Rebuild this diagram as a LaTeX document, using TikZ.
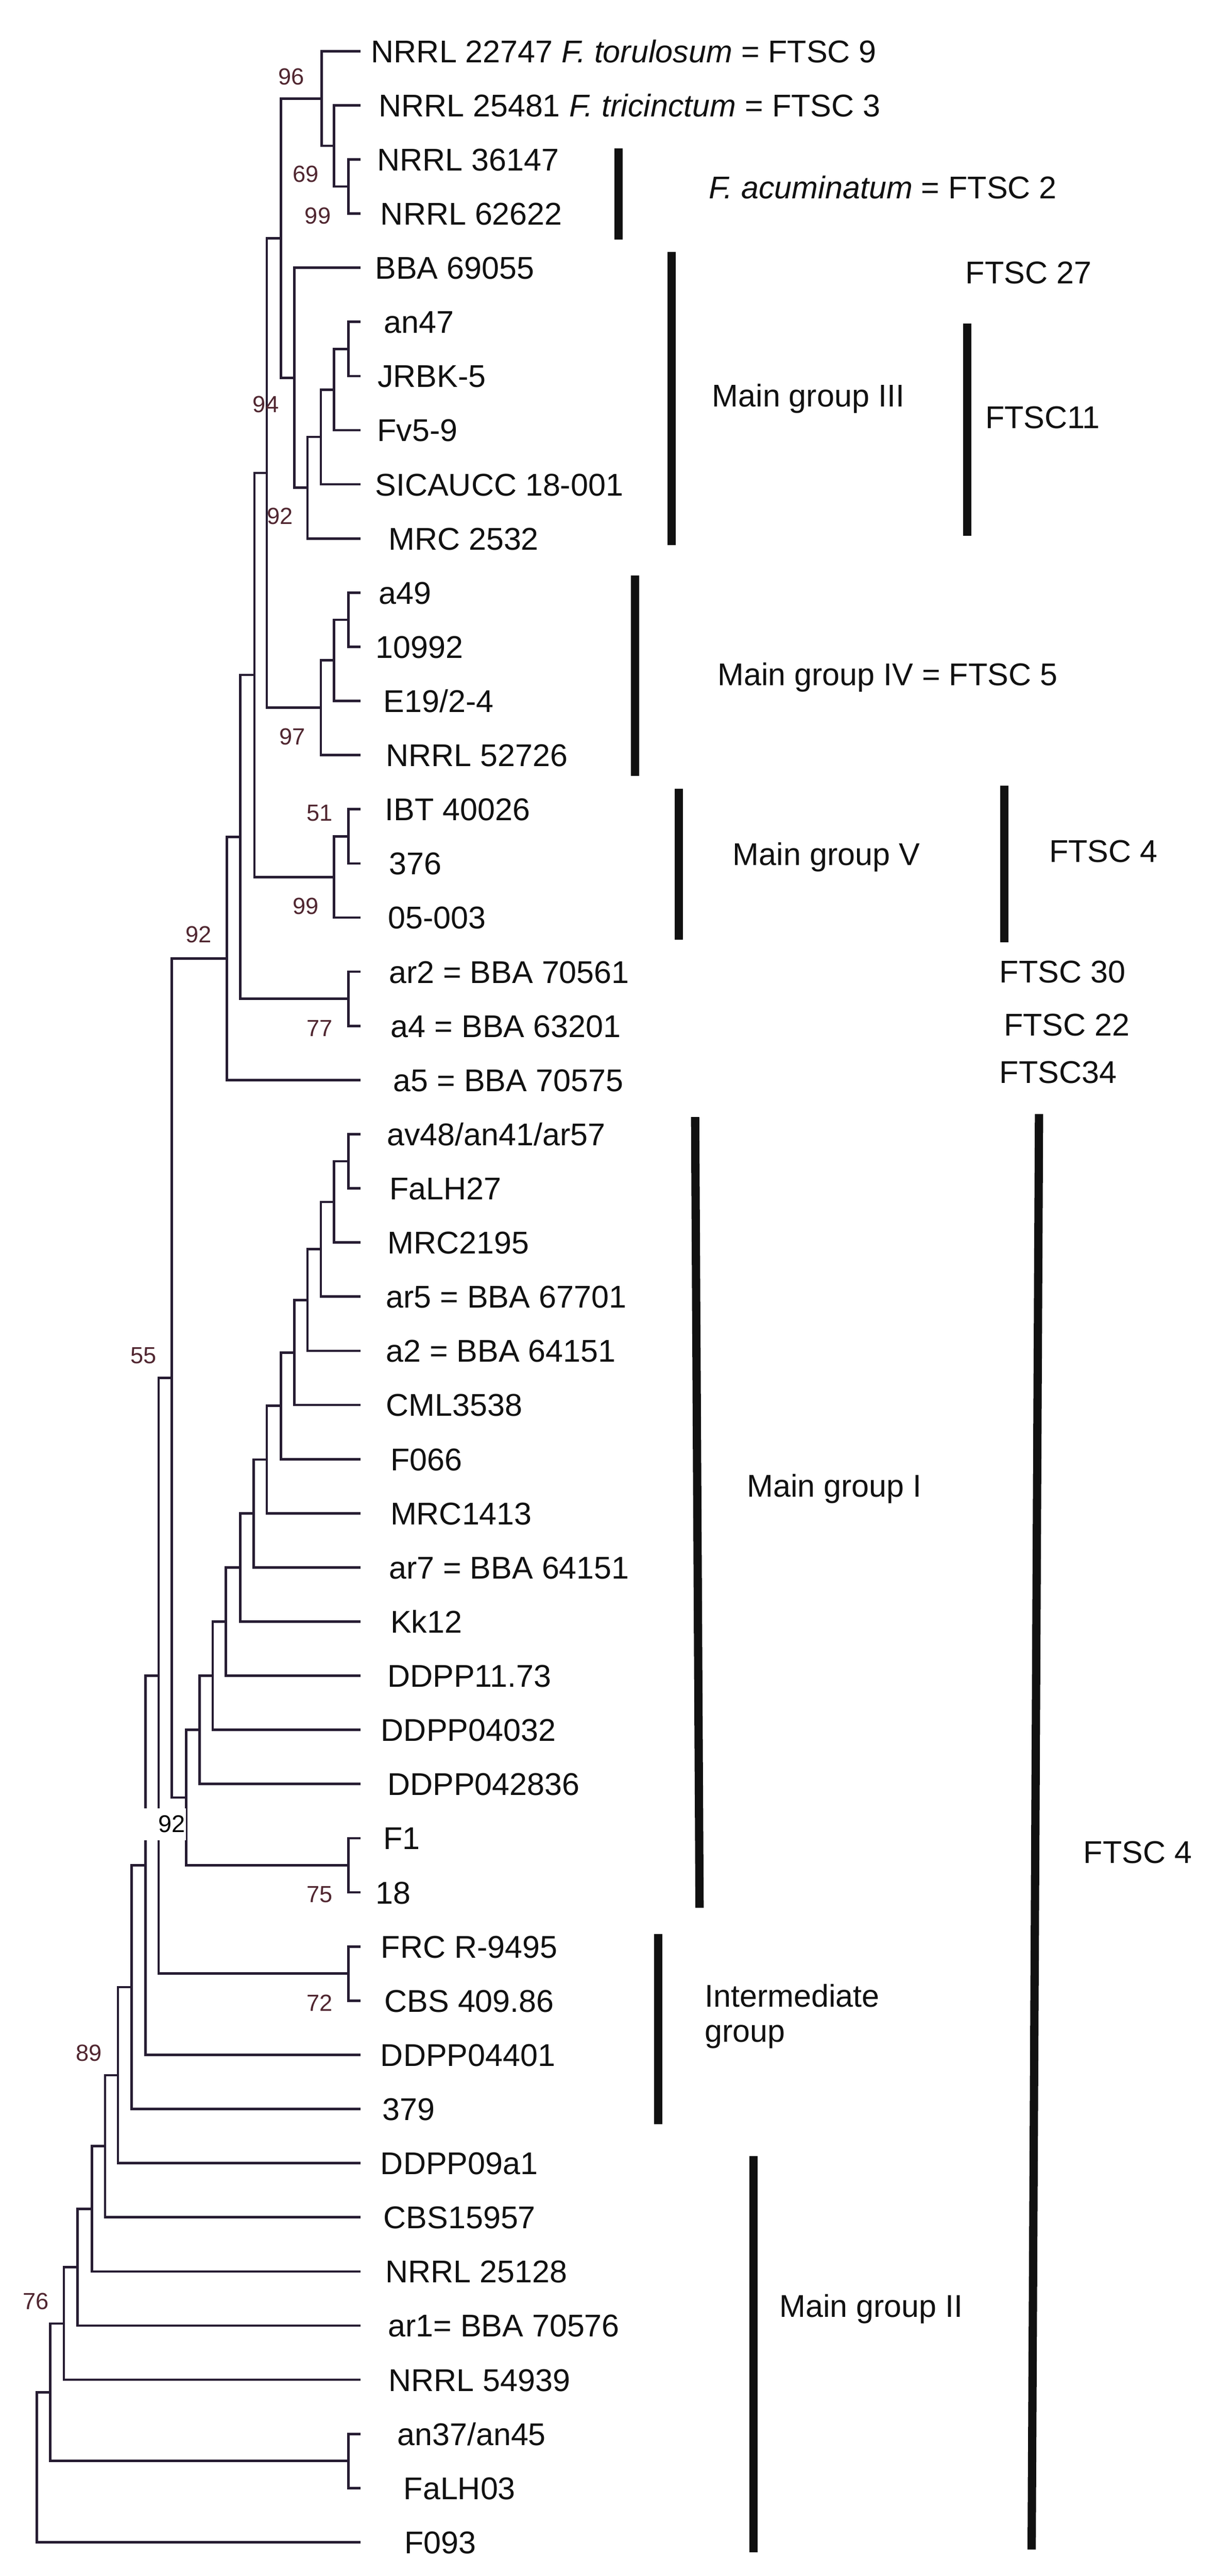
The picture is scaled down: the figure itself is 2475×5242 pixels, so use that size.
\documentclass[tikz,border=0pt]{standalone}
\usepackage{fontspec}
\setmainfont{Liberation Sans}
\definecolor{branch}{RGB}{38,28,50}
\definecolor{boot}{RGB}{80,38,48}
\definecolor{ink}{RGB}{17,17,17}
\pgfmathdeclarefunction{ly}{1}{\pgfmathparse{104+110.2*(#1)}}
\begin{document}
\begin{tikzpicture}[x=0.01cm,y=-0.01cm,
  br/.style={draw=branch, line width=1.4pt},
  leaf/.style={anchor=base west, inner sep=0pt, text=ink, font=\fontsize{18.2}{22}\selectfont},
  grp/.style={anchor=base west, inner sep=0pt, text=ink, font=\fontsize{18.2}{22}\selectfont},
  bs/.style={inner sep=0pt, text=boot, font=\fontsize{13.5}{16}\selectfont},
  bar/.style={draw=ink, line width=4.8pt}]
\useasboundingbox[fill=white] (0,0) rectangle (2475,5242);

% ---------- leaf tips ----------
\foreach \i in {0,...,46} { \coordinate (l\i) at (734,{ly(\i)}); }

% ---------- internal nodes ----------
\coordinate (C) at (709,{ly(2.5)});
\coordinate (B) at (680,{ly(1.75)});
\coordinate (A) at (655,{ly(0.875)});
\coordinate (J) at (709,{ly(5.5)});
\coordinate (I) at (680,{ly(6.25)});
\coordinate (H) at (653,{ly(7.125)});
\coordinate (G) at (626,{ly(8.0625)});
\coordinate (F) at (599,{ly(6.03125)});
\coordinate (D) at (572,{ly(3.453125)});
\coordinate (N) at (709,{ly(10.5)});
\coordinate (M) at (680,{ly(11.25)});
\coordinate (K) at (653,{ly(12.125)});
\coordinate (E) at (543,{ly(7.7890625)});
\coordinate (P) at (709,{ly(14.5)});
\coordinate (O) at (680,{ly(15.25)});
\coordinate (L) at (518,{ly(11.51953)});
\coordinate (R) at (709,{ly(17.5)});
\coordinate (Q) at (489,{ly(14.50977)});
\coordinate (S) at (462,{ly(16.75488)});
\coordinate (AI) at (709,{ly(20.5)});
\coordinate (AH) at (680,{ly(21.25)});
\coordinate (AG) at (653,{ly(22.125)});
\coordinate (AF) at (626,{ly(23.0625)});
\coordinate (AE) at (599,{ly(24.03125)});
\coordinate (AD) at (572,{ly(25.015625)});
\coordinate (AC) at (543,{ly(26.0078)});
\coordinate (AB) at (516,{ly(27.0039)});
\coordinate (AA) at (489,{ly(28.00195)});
\coordinate (Z) at (460,{ly(29.00098)});
\coordinate (Y) at (433,{ly(30.00049)});
\coordinate (W) at (406,{ly(31.00024)});
\coordinate (X) at (709,{ly(33.5)});
\coordinate (V) at (379,{ly(32.25012)});
\coordinate (T) at (350,{ly(24.5025)});
\coordinate (FC) at (709,{ly(35.5)});
\coordinate (U) at (323,{ly(30.00125)});
\coordinate (P2) at (296,{ly(33.5006)});
\coordinate (P3) at (268,{ly(35.7503)});
\coordinate (P4) at (240,{ly(37.3752)});
\coordinate (P5) at (214,{ly(38.6876)});
\coordinate (P6) at (187,{ly(39.8438)});
\coordinate (P7) at (158,{ly(40.9219)});
\coordinate (P8) at (130,{ly(41.9610)});
\coordinate (AN) at (709,{ly(44.5)});
\coordinate (P9) at (102,{ly(43.2305)});
\coordinate (root) at (75,{ly(44.6152)});

% ---------- branches ----------
\draw[br] (A) |- (l0);  \draw[br] (A) |- (B);
\draw[br] (B) |- (l1);  \draw[br] (B) |- (C);
\draw[br] (C) |- (l2);  \draw[br] (C) |- (l3);
\draw[br] (D) |- (A);   \draw[br] (D) |- (F);
\draw[br] (F) |- (l4);  \draw[br] (F) |- (G);
\draw[br] (G) |- (H);   \draw[br] (G) |- (l9);
\draw[br] (H) |- (I);   \draw[br] (H) |- (l8);
\draw[br] (I) |- (J);   \draw[br] (I) |- (l7);
\draw[br] (J) |- (l5);  \draw[br] (J) |- (l6);
\draw[br] (E) |- (D);   \draw[br] (E) |- (K);
\draw[br] (K) |- (M);   \draw[br] (K) |- (l13);
\draw[br] (M) |- (N);   \draw[br] (M) |- (l12);
\draw[br] (N) |- (l10); \draw[br] (N) |- (l11);
\draw[br] (L) |- (E);   \draw[br] (L) |- (O);
\draw[br] (O) |- (P);   \draw[br] (O) |- (l16);
\draw[br] (P) |- (l14); \draw[br] (P) |- (l15);
\draw[br] (Q) |- (L);   \draw[br] (Q) |- (R);
\draw[br] (R) |- (l17); \draw[br] (R) |- (l18);
\draw[br] (S) |- (Q);   \draw[br] (S) |- (l19);
\draw[br] (T) |- (S);   \draw[br] (T) |- (V);
\draw[br] (V) |- (W);   \draw[br] (V) |- (X);
\draw[br] (W) |- (Y);   \draw[br] (W) |- (l32);
\draw[br] (Y) |- (Z);   \draw[br] (Y) |- (l31);
\draw[br] (Z) |- (AA);  \draw[br] (Z) |- (l30);
\draw[br] (AA) |- (AB); \draw[br] (AA) |- (l29);
\draw[br] (AB) |- (AC); \draw[br] (AB) |- (l28);
\draw[br] (AC) |- (AD); \draw[br] (AC) |- (l27);
\draw[br] (AD) |- (AE); \draw[br] (AD) |- (l26);
\draw[br] (AE) |- (AF); \draw[br] (AE) |- (l25);
\draw[br] (AF) |- (AG); \draw[br] (AF) |- (l24);
\draw[br] (AG) |- (AH); \draw[br] (AG) |- (l23);
\draw[br] (AH) |- (AI); \draw[br] (AH) |- (l22);
\draw[br] (AI) |- (l20); \draw[br] (AI) |- (l21);
\draw[br] (X) |- (l33); \draw[br] (X) |- (l34);
\draw[br] (U) |- (T);   \draw[br] (U) |- (FC);
\draw[br] (FC) |- (l35); \draw[br] (FC) |- (l36);
\draw[br] (P2) |- (U);  \draw[br] (P2) |- (l37);
\draw[br] (P3) |- (P2); \draw[br] (P3) |- (l38);
\draw[br] (P4) |- (P3); \draw[br] (P4) |- (l39);
\draw[br] (P5) |- (P4); \draw[br] (P5) |- (l40);
\draw[br] (P6) |- (P5); \draw[br] (P6) |- (l41);
\draw[br] (P7) |- (P6); \draw[br] (P7) |- (l42);
\draw[br] (P8) |- (P7); \draw[br] (P8) |- (l43);
\draw[br] (P9) |- (P8); \draw[br] (P9) |- (AN);
\draw[br] (AN) |- (l44); \draw[br] (AN) |- (l45);
\draw[br] (root) |- (P9); \draw[br] (root) |- (l46);

% ---------- leaf labels ----------
\node[leaf] (t0) at (755,{ly(0)+23}) {NRRL 22747 \textit{F. torulosum} = FTSC 9};
\node[leaf] (t1) at (770,{ly(1)+23}) {NRRL 25481 \textit{F. tricinctum} = FTSC 3};
\node[leaf] (t2) at (767,{ly(2)+23}) {NRRL 36147};
\node[leaf] (t3) at (774,{ly(3)+23}) {NRRL 62622};
\node[leaf] (t4) at (763,{ly(4)+23}) {BBA 69055};
\node[leaf] (t5) at (781,{ly(5)+23}) {an47};
\node[leaf] (t6) at (768,{ly(6)+23}) {JRBK-5};
\node[leaf] (t7) at (767,{ly(7)+23}) {Fv5-9};
\node[leaf] (t8) at (763,{ly(8)+23}) {SICAUCC 18-001};
\node[leaf] (t9) at (790,{ly(9)+23}) {MRC 2532};
\node[leaf] (t10) at (770,{ly(10)+23}) {a49};
\node[leaf] (t11) at (764,{ly(11)+23}) {10992};
\node[leaf] (t12) at (780,{ly(12)+23}) {E19/2-4};
\node[leaf] (t13) at (785,{ly(13)+23}) {NRRL 52726};
\node[leaf] (t14) at (783,{ly(14)+23}) {IBT 40026};
\node[leaf] (t15) at (791,{ly(15)+23}) {376};
\node[leaf] (t16) at (789,{ly(16)+23}) {05-003};
\node[leaf] (t17) at (791,{ly(17)+23}) {ar2 = BBA 70561};
\node[leaf] (t18) at (795,{ly(18)+23}) {a4 = BBA 63201};
\node[leaf] (t19) at (800,{ly(19)+23}) {a5 = BBA 70575};
\node[leaf] (t20) at (787,{ly(20)+23}) {av48/an41/ar57};
\node[leaf] (t21) at (792,{ly(21)+23}) {FaLH27};
\node[leaf] (t22) at (788,{ly(22)+23}) {MRC2195};
\node[leaf] (t23) at (785,{ly(23)+23}) {ar5 = BBA 67701};
\node[leaf] (t24) at (785,{ly(24)+23}) {a2 = BBA 64151};
\node[leaf] (t25) at (785,{ly(25)+23}) {CML3538};
\node[leaf] (t26) at (794,{ly(26)+23}) {F066};
\node[leaf] (t27) at (794,{ly(27)+23}) {MRC1413};
\node[leaf] (t28) at (791,{ly(28)+23}) {ar7 = BBA 64151};
\node[leaf] (t29) at (794,{ly(29)+23}) {Kk12};
\node[leaf] (t30) at (788,{ly(30)+23}) {DDPP11.73};
\node[leaf] (t31) at (775,{ly(31)+23}) {DDPP04032};
\node[leaf] (t32) at (788,{ly(32)+23}) {DDPP042836};
\node[leaf] (t33) at (780,{ly(33)+23}) {F1};
\node[leaf] (t34) at (764,{ly(34)+23}) {18};
\node[leaf] (t35) at (775,{ly(35)+23}) {FRC R-9495};
\node[leaf] (t36) at (782,{ly(36)+23}) {CBS 409.86};
\node[leaf] (t37) at (774,{ly(37)+23}) {DDPP04401};
\node[leaf] (t38) at (778,{ly(38)+23}) {379};
\node[leaf] (t39) at (774,{ly(39)+23}) {DDPP09a1};
\node[leaf] (t40) at (780,{ly(40)+23}) {CBS15957};
\node[leaf] (t41) at (784,{ly(41)+23}) {NRRL 25128};
\node[leaf] (t42) at (789,{ly(42)+23}) {ar1= BBA 70576};
\node[leaf] (t43) at (790,{ly(43)+23}) {NRRL 54939};
\node[leaf] (t44) at (808,{ly(44)+23}) {an37/an45};
\node[leaf] (t45) at (821,{ly(45)+23}) {FaLH03};
\node[leaf] (t46) at (823,{ly(46)+23}) {F093};

% ---------- bootstrap values ----------
\node[bs] (b96) at (593,156) {96};
\node[bs] (b69) at (622,354) {69};
\node[bs] (b99a) at (647,439) {99};
\node[bs] (b94) at (541,823) {94};
\node[bs] (b92a) at (570,1050) {92};
\node[bs] (b97) at (595,1499) {97};
\node[bs] (b51) at (651,1655) {51};
\node[bs] (b99b) at (622,1844) {99};
\node[bs] (b92b) at (404,1902) {92};
\node[bs] (b77) at (651,2092) {77};
\node[bs] (b55) at (292,2758) {55};
\node[bs] (b75) at (651,3855) {75};
\node[bs] (b72) at (651,4076) {72};
\node[bs] (b89) at (181,4178) {89};
\node[bs] (b76) at (73,4683) {76};
\fill[white] (293,3680) rectangle (378,3745);
\node[bs, text=black, font=\fontsize{14}{16}\selectfont] (b92c) at (350,3712) {92};

% ---------- group bars ----------
\draw[bar] (1259,302) -- (1259,488);
\draw[bar] (1367,513) -- (1367,1109);
\draw[bar] (1969,658) -- (1969,1090);
\draw[bar] (1293,1171) -- (1293,1579);
\draw[bar] (1382,1605) -- (1382,1912);
\draw[bar] (2044,1599) -- (2044,1918);
\draw[bar] (1415,2273) -- (1424,3882);
\draw[bar] (2115,2267) -- (2100,5188);
\draw[bar] (1340,3936) -- (1340,4323);
\draw[bar] (1534,4388) -- (1534,5194);

% ---------- group labels ----------
\node[grp] (g1) at (1442,404) {\textit{F. acuminatum} = FTSC 2};
\node[grp] (g2) at (1965,577) {FTSC 27};
\node[grp] (g3) at (1449,828) {Main group III};
\node[grp] (g4) at (2005,872) {FTSC11};
\node[grp] (g5) at (1460,1395) {Main group IV = FTSC 5};
\node[grp] (g6) at (1491,1761) {Main group V};
\node[grp] (g7) at (2135,1754) {FTSC 4};
\node[grp] (g8) at (2034,2000) {FTSC 30};
\node[grp] (g9) at (2043,2108) {FTSC 22};
\node[grp] (g10) at (2034,2204) {FTSC34};
\node[grp] (g11) at (1520,3046) {Main group I};
\node[grp] (g12) at (2205,3791) {FTSC 4};
\node[grp] (g13) at (1434,4084) {Intermediate};
\node[grp] (g14) at (1434,4155) {group};
\node[grp] (g15) at (1586,4715) {Main group II};
\end{tikzpicture}
\end{document}
